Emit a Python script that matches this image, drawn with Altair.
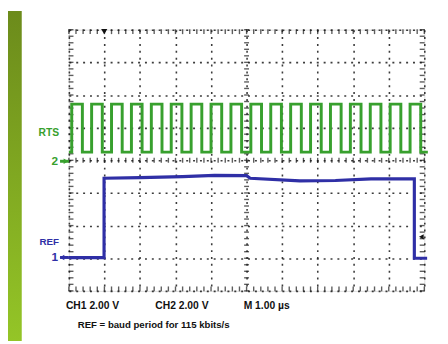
import altair as alt
import numpy as np
import pandas as pd

# ---- data (divisions: x 0..10, y 0..8) ----
rts_rise = [0.08, 0.64, 1.20, 1.76, 2.32, 2.88, 3.44, 4.00, 4.56, 5.12,
            5.68, 6.24, 6.80, 7.36, 7.92, 8.48, 9.04, 9.60]
rts_fall = [0.38, 0.94, 1.50, 2.06, 2.62, 3.18, 3.74, 4.30, 4.86, 5.42,
            5.98, 6.54, 7.10, 7.66, 8.22, 8.78, 9.34, 9.90]
rts_levels = [4.25, 5.72]          # low, high
rts_span = [0.0, 10.1]

ref_t = [0.0, 0.99, 0.99, 2.0, 3.2, 4.1, 5.0, 5.1, 6.5, 7.5, 8.5, 9.72, 9.72, 10.08]
ref_v = [1.02, 1.02, 3.45, 3.47, 3.50, 3.54, 3.53, 3.45, 3.37, 3.38, 3.43, 3.43, 1.0, 1.0]

bottom_labels = ["CH1 2.00 V", "CH2  2.00 V", "M  1.00 \u00b5s"]
caption = "REF = baud period for 115 kbits/s"

GREEN = "#38a02e"
BLUE = "#2f2fa6"
FONT = "Liberation Sans"

# ---- tables ----
lo, hi = rts_levels
pts = [(rts_span[0], lo)]
for r, f in zip(rts_rise, rts_fall):
    pts += [(r, lo), (r, hi), (f, hi), (f, lo)]
pts.append((rts_span[1], lo))
rts_df = pd.DataFrame({"t": [p[0] for p in pts], "v": [p[1] for p in pts],
                       "i": list(range(len(pts)))})
ref_df = pd.DataFrame({"t": ref_t, "v": ref_v, "i": list(range(len(ref_t)))})

# graticule minor ticks (decoration)
tx = np.round(np.arange(0, 10.01, 0.2), 2)
ty = np.round(np.arange(0, 8.01, 0.2), 2)
vt = pd.DataFrame({"t": np.concatenate([tx, tx, tx]),
                   "v": np.concatenate([np.full(len(tx), 4.0), np.full(len(tx), 0.06), np.full(len(tx), 7.94)])})
ht = pd.DataFrame({"t": np.concatenate([np.full(len(ty), 5.0), np.full(len(ty), 0.06), np.full(len(ty), 9.94)]),
                   "v": np.concatenate([ty, ty, ty])})

xs = alt.Scale(domain=[0, 10], nice=False, zero=False)
ys = alt.Scale(domain=[0, 8], nice=False, zero=False)
xax = alt.Axis(values=list(range(11)), grid=True, labels=False, ticks=False,
               domain=False, title=None, gridColor="#1a1a1a", gridDash=[2, 5],
               gridWidth=1.6, gridOpacity=0.85)
yax = alt.Axis(values=list(range(9)), grid=True, labels=False, ticks=False,
               domain=False, title=None, gridColor="#1a1a1a", gridDash=[2, 5],
               gridWidth=1.6, gridOpacity=0.85)
X = alt.X("t:Q", scale=xs, axis=xax)
Y = alt.Y("v:Q", scale=ys, axis=yax)

one = pd.DataFrame({"k": [0]})

strip = alt.Chart(one).mark_rect(
    color=alt.Gradient(gradient="linear",
                       stops=[alt.GradientStop(color="#6c8b1b", offset=0),
                              alt.GradientStop(color="#94c527", offset=1)],
                       x1=0, x2=0, y1=0, y2=1)
).encode(x=alt.value(-62), x2=alt.value(-48), y=alt.value(-19), y2=alt.value(317))

vticks = alt.Chart(vt).mark_tick(orient="vertical", size=5, thickness=1.4,
                                 color="#1a1a1a").encode(x=X, y=Y)
hticks = alt.Chart(ht).mark_tick(orient="horizontal", size=5, thickness=1.4,
                                 color="#1a1a1a").encode(x=X, y=Y)

rts_line = alt.Chart(rts_df).mark_line(color=GREEN, strokeWidth=3,
                                       interpolate="linear").encode(x=X, y=Y, order="i:Q")
ref_line = alt.Chart(ref_df).mark_line(color=BLUE, strokeWidth=3.2,
                                       interpolate="linear").encode(x=X, y=Y, order="i:Q")

def txt(s, x, y, color="#111", size=10.5, align="left"):
    return alt.Chart(one).mark_text(text=s, font=FONT, fontWeight="bold",
                                    fontSize=size, color=color, align=align,
                                    baseline="middle").encode(x=alt.value(x), y=alt.value(y))

def rule(x1, x2, y, color, w=3):
    return alt.Chart(one).mark_rule(color=color, strokeWidth=w).encode(
        x=alt.value(x1), x2=alt.value(x2), y=alt.value(y))

def tri(shape, x, y, color, size=40):
    return alt.Chart(one).mark_point(shape=shape, filled=True, size=size,
                                     color=color, opacity=1).encode(
        x=alt.value(x), y=alt.value(y))

layers = [
    strip, vticks, hticks, rts_line, ref_line,
    txt("RTS", -10, 105, GREEN, 10.5, "right"),
    txt("2", -11, 134, GREEN, 12, "right"),
    rule(-9, 0, 134, GREEN), tri("triangle-right", -3, 134, GREEN, 30),
    txt("REF", -10, 216, BLUE, 10, "right"),
    txt("1", -11, 232, BLUE, 12, "right"),
    rule(-9, 0, 232, BLUE), tri("triangle-left", -7, 232, BLUE, 30),
    tri("triangle-down", 36, 2, "#111", 40),
    tri("triangle-left", 359, 211, "#111", 30),
    txt(bottom_labels[0], -3, 281),
    txt(bottom_labels[1], 88, 281),
    txt(bottom_labels[2], 178, 281),
    txt(caption, 9, 301, "#111", 9.8),
]

chart = alt.layer(*layers).properties(
    width=362, height=266,
    autosize=alt.AutoSizeParams(type="none"),
    padding={"left": 62, "top": 19, "right": 16, "bottom": 51},
).configure_view(stroke="#111", strokeWidth=2.2).configure(background="#ffffff")

chart.save("out.html", embed_options={"renderer": "svg", "actions": False})
